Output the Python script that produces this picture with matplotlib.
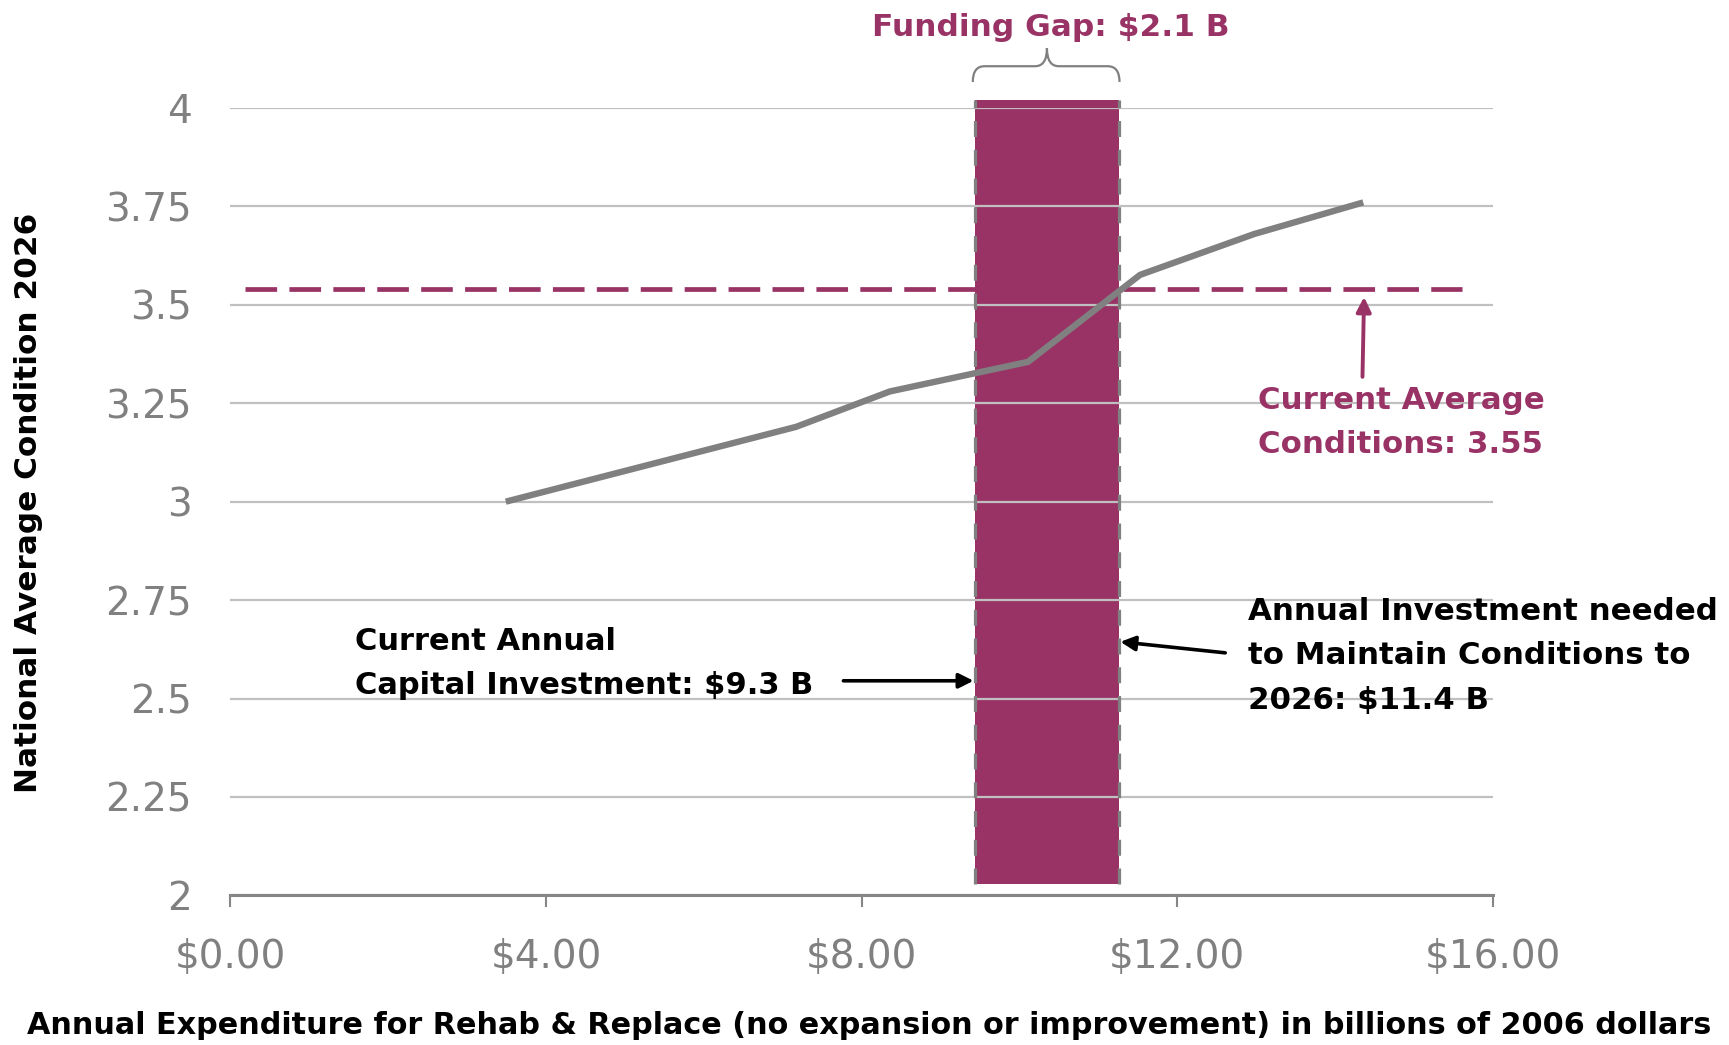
import matplotlib
matplotlib.use("Agg")
import matplotlib.pyplot as plt
from matplotlib.path import Path
from matplotlib.patches import PathPatch

# data
spend = [3.49, 7.17, 8.36, 10.11, 11.53, 12.98, 14.36]
condition = [3.0, 3.19, 3.28, 3.355, 3.576, 3.68, 3.76]
current_condition = 3.54
gap_left = 9.44    # current annual capital investment
gap_right = 11.26  # investment needed to maintain conditions
gap_bottom = 2.03
gap_top = 4.02
x_ticks = [0, 4, 8, 12, 16]
x_tick_labels = ["$0.00", "$4.00", "$8.00", "$12.00", "$16.00"]
y_ticks = [2, 2.25, 2.5, 2.75, 3, 3.25, 3.5, 3.75, 4]
y_tick_labels = ["2", "2.25", "2.5", "2.75", "3", "3.25", "3.5", "3.75", "4"]

purple = "#993366"
grey = "#808080"

fig = plt.figure(figsize=(17.29, 10.45), dpi=100)
ax = fig.add_axes([0.1333, 0.1432, 0.7300, 0.7535])

# funding gap bar, gridlines sit on top of it
ax.bar((gap_left + gap_right) / 2, gap_top - gap_bottom, width=gap_right - gap_left,
       bottom=gap_bottom, color=purple, zorder=1, clip_on=False)
for xe in [gap_left, gap_right]:
    ax.plot([xe, xe], [gap_bottom, gap_top], color=grey, lw=2.3,
            linestyle=(0, (5, 4)), zorder=2, clip_on=False)

# current average condition
ax.plot([0.18, 15.61], [current_condition, current_condition], color=purple, lw=3.4,
        linestyle=(0, (6.7, 2.6)), zorder=0.9)

# condition curve
ax.plot(spend, condition, color=grey, lw=4.6, zorder=3, solid_capstyle="butt")

ax.set_xlim(0, 16)
ax.set_ylim(2, 4)
ax.set_xticks(x_ticks)
ax.set_xticklabels(x_tick_labels)
ax.set_yticks(y_ticks)
ax.set_yticklabels(y_tick_labels)
ax.tick_params(axis="x", direction="out", length=8.6, width=1.5, color="#868686",
               labelsize=28, labelcolor=grey, pad=22)
ax.tick_params(axis="y", length=0, labelsize=28, labelcolor=grey, pad=28)
ax.grid(axis="y", color="#c0c0c0", lw=1.6)
for s in ["top", "right", "left"]:
    ax.spines[s].set_visible(False)
ax.spines["bottom"].set_color("#868686")
ax.spines["bottom"].set_linewidth(2.2)
ax.spines["bottom"].set_zorder(4)

# brace over the gap
xm = (gap_left + gap_right) / 2
xl, xr = gap_left - 0.03, gap_right + 0.01
y0, y1, y2 = 4.066, 4.106, 4.152
verts = [(xl, y0), (xl, y1), (xl + 0.15, y1), (xm - 0.15, y1), (xm, y1), (xm, y2),
         (xm, y1), (xm + 0.15, y1), (xr - 0.15, y1), (xr, y1), (xr, y0)]
codes = [Path.MOVETO, Path.CURVE3, Path.CURVE3, Path.LINETO, Path.CURVE3, Path.CURVE3,
         Path.CURVE3, Path.CURVE3, Path.LINETO, Path.CURVE3, Path.CURVE3]
ax.add_patch(PathPatch(Path(verts, codes), facecolor="none", edgecolor=grey, lw=1.6,
                       clip_on=False))
ax.text(10.40, 4.205, "Funding Gap: $2.1 B", color=purple, fontsize=22.5,
        fontweight="bold", ha="center", va="center")

# left annotation
ax.text(1.58, 2.646, "Current Annual", fontsize=22, fontweight="bold", va="center")
ax.text(1.58, 2.534, "Capital Investment: $9.3 B", fontsize=22, fontweight="bold",
        va="center")
ax.annotate("", xy=(gap_left - 0.02, 2.545), xytext=(7.77, 2.545),
            arrowprops=dict(arrowstyle="-|>", color="black", lw=2.6, mutation_scale=22,
                            shrinkA=0, shrinkB=0))

# right annotation
for yy, line in zip([2.722, 2.608, 2.494],
                    ["Annual Investment needed", "to Maintain Conditions to",
                     "2026: $11.4 B"]):
    ax.text(12.90, yy, line, fontsize=22.2, fontweight="bold", va="center",
            clip_on=False)
ax.annotate("", xy=(gap_right + 0.02, 2.644), xytext=(12.61, 2.616),
            arrowprops=dict(arrowstyle="-|>", color="black", lw=2.6, mutation_scale=22,
                            shrinkA=0, shrinkB=0))

# current average annotation
ax.text(13.02, 3.258, "Current Average", color=purple, fontsize=22.2, fontweight="bold",
        va="center")
ax.text(13.02, 3.144, "Conditions: 3.55", color=purple, fontsize=22.2, fontweight="bold",
        va="center")
ax.annotate("", xy=(14.37, current_condition - 0.02), xytext=(14.35, 3.317),
            arrowprops=dict(arrowstyle="-|>", color=purple, lw=2.8, mutation_scale=22,
                            shrinkA=0, shrinkB=0))

fig.text(29 / 1729, 1 - 503 / 1045, "National Average Condition 2026", rotation=90,
         fontsize=22.4, fontweight="bold", ha="center", va="center")
fig.text(1711 / 1729, 1 - 1025 / 1045,
         "Annual Expenditure for Rehab & Replace (no expansion or improvement) "
         "in billions of 2006 dollars",
         fontsize=21.8, fontweight="bold", ha="right", va="center")

fig.savefig("out.png", dpi=100)
